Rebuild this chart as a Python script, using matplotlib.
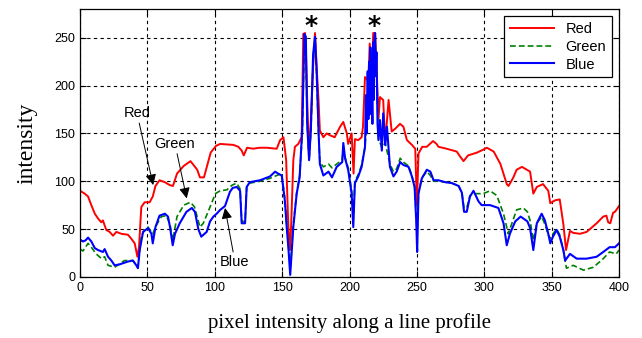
import numpy as np
import matplotlib
matplotlib.use("Agg")
import matplotlib.pyplot as plt

# red channel (x, value)
red_x = [0, 3.5, 6, 8.4, 11, 13.4, 15.8, 17, 19.5, 22, 24.5, 27, 30.7, 35.6, 38, 40.6, 42.6, 43.8,
         45.5, 48, 51.7, 54, 56, 59, 63, 66.5, 69, 72, 77, 82, 87, 89, 92, 97, 101, 104, 113.8,
         117.5, 120, 121.5, 124, 128.6, 133, 138.5, 146, 148.5, 151, 153, 154.6, 156, 157, 158.3,
         159.5, 162, 164.5, 165.7, 167, 167.6, 168.6, 170, 172, 173, 174.4, 175.6, 177, 178, 180.6,
         183, 185.5, 189, 193, 195.4, 198, 199, 201.6, 203, 204, 206.5, 209, 210, 211.5, 214, 215,
         216.4, 217.6, 219, 220, 221.5, 222.6, 225, 226.5, 229, 231.3, 234, 237.5, 240, 242.6,
         246.3, 248.8, 250, 251.2, 254, 257.3, 262, 264.6, 266, 272, 279.6, 282, 284.6, 288, 294.7,
         299.2, 302, 307, 312, 316.7, 318, 321.6, 324, 328, 334, 336.4, 339, 343.6, 347.5, 349,
         352.5, 356, 358.7, 360.7, 363.6, 366, 371, 376, 383.4, 388.3, 390.6, 392, 393.5, 395.6,
         397, 400]
red_y = [90, 87, 84, 75, 66, 61, 57, 59, 49, 47, 43, 47, 45, 44, 40, 35, 21, 31,
         73, 78, 78, 84, 95, 101, 99, 96, 95, 108, 116, 121, 112, 104, 104, 130, 137, 139, 138,
         136, 132, 127, 135, 134, 135, 135, 134, 143, 146, 122, 52, 28, 66, 122,
         136, 139, 146, 254, 255, 240, 185, 125, 185, 220, 255, 220, 185, 153, 146,
         150, 148, 146, 157, 162, 150, 139, 150, 108, 144, 143, 146, 157, 209, 205, 244,
         202, 255, 255, 223, 165, 188, 185, 140, 185, 152, 155, 160, 157, 143,
         138, 134, 75, 129, 136, 136, 142, 139, 136, 134, 131, 126, 121, 127, 130,
         133, 135, 131, 118, 97, 95, 104, 112, 115, 110, 87, 94, 97, 90, 77,
         80, 81, 55, 28, 48, 46, 45, 47, 56, 63, 64, 57, 56, 67,
         68, 74]

# green channel
green_x = [0, 2.2, 6, 8.4, 12, 16, 18.3, 20.8, 25.7, 33, 39.3, 43, 45.5, 48, 50.5, 54, 56.7, 60.4,
           64, 66.8, 68.8, 72, 77, 82, 85, 89, 91.5, 96.5, 100.5, 104, 109, 113, 116.3, 118.8, 120,
           122.5, 123.7, 126, 133.6, 141, 146, 149.7, 152, 153.4, 154.6, 156, 157, 158.3, 160.8, 163,
           165, 166.5, 167.6, 168.6, 170, 171.3, 173, 174.4, 175.6, 177, 178, 180.6, 184.4, 187,
           190.5, 194.6, 195.4, 196.7, 199, 201.6, 202.8, 204, 206.5, 209, 211.5, 212.7, 214, 215.5,
           217, 219, 220, 221.5, 224, 226.5, 230, 232.6, 235, 237.6, 240, 243.8, 246.3, 248.3, 249.5,
           250.2, 251.2, 253.7, 257.4, 260, 262.4, 266, 271, 276, 281, 283.4, 285, 287, 289.4, 292,
           295.7, 299.2, 304.3, 309.3, 314.3, 317.8, 321, 324, 329, 332, 334, 336.4, 339, 342.6,
           345, 347.5, 349, 351, 353.7, 356, 358.7, 361, 366, 373.6, 381, 388.3, 393, 398, 400]
green_y = [29, 27, 35, 31, 24, 19, 21, 12, 10, 17, 17, 10, 43, 49, 52, 45, 54, 63,
           64, 55, 38, 63, 75, 78, 73, 52, 56, 73, 87, 90, 91, 96, 98, 92, 58,
           58, 94, 98, 100, 103, 106, 108, 82, 55, 35, 8, 28, 55, 88, 106,
           150, 245, 240, 160, 122, 150, 225, 245, 210, 150, 120, 115, 118, 114,
           118, 122, 138, 125, 114, 90, 60, 100, 107, 117, 135, 160, 200, 225,
           230, 245, 220, 145, 135, 140, 118, 110, 113, 124, 120, 116, 106, 95, 65,
           45, 88, 104, 110, 106, 100, 100, 99, 98, 95, 88, 72, 72, 85, 87,
           87, 87, 90, 85, 66, 45, 58, 70, 72, 68, 59, 38, 56, 63,
           55, 44, 40, 45, 50, 44, 28, 9, 12, 7, 10, 19, 26, 24, 28]

# blue channel
blue_x = [0, 2.2, 4, 6, 8.4, 11, 13.4, 17, 18.3, 20.8, 23.3, 25.7, 29.4, 35.6, 39.3, 41.8, 43, 44.3,
          46.8, 50.5, 53, 54, 56, 59, 63, 65.3, 66.8, 68.8, 70.5, 74, 79, 83, 85.3, 87.8, 90, 94,
          96.5, 99, 101.4, 104, 107.6, 111.3, 113.3, 116.3, 118.8, 120, 122.5, 123.7, 126, 133.6,
          141, 144.8, 147, 149.7, 152, 153.4, 154.6, 156, 157, 158.3, 160.8, 163, 165, 166.5, 167.6,
          168.6, 170, 171.3, 173, 174.4, 175.6, 177, 178, 180.6, 184.4, 187, 190.5, 194.6, 195.4,
          196.7, 199, 201.6, 202.8, 204, 206.5, 209, 211.5, 212.2, 212.7, 213.5, 214, 214.5, 215,
          215.5, 216, 216.4, 217, 217.5, 218, 218.5, 219, 219.5, 220, 220.8, 221.5, 222.6, 224, 225,
          226.5, 227.8, 230, 232.6, 235, 237.6, 240, 243.8, 246.3, 248.3, 249.5, 250.2, 251.2, 253.7,
          257.4, 260, 262.4, 266, 271, 276, 281, 283.4, 285, 287, 289.4, 292, 295.7, 298, 304.3,
          310.5, 314.3, 316.7, 319, 323, 327, 332, 334, 336.4, 339, 342.6, 345, 347.5, 349, 351,
          353.7, 356, 358.7, 360, 363.6, 368.6, 376, 383.4, 388.3, 393, 397, 400]
blue_y = [39, 37, 38, 41, 37, 30, 28, 26, 29, 21, 17, 12, 13, 16, 17, 12, 9, 28,
          47, 51, 45, 35, 52, 64, 66, 63, 52, 33, 45, 56, 68, 72, 68, 50, 42, 47,
          58, 63, 66, 70, 74, 89, 93, 94, 90, 56, 56, 94, 99, 101,
          105, 110, 108, 106, 80, 52, 31, 2, 24, 52, 87, 104, 157, 254, 251,
          160, 122, 153, 233, 251, 216, 153, 118, 106, 110, 104, 115, 120, 140,
          124, 112, 87, 52, 98, 105, 115, 136, 190, 150, 215, 165, 225, 170,
          240, 180, 200, 160, 245, 185, 250, 255, 210, 235, 160, 143, 164, 132, 171,
          138, 157, 115, 105, 110, 120, 117, 115, 105, 94, 59, 26, 87, 103,
          112, 110, 101, 101, 99, 98, 95, 88, 68, 68, 84, 90, 79, 75, 75,
          72, 56, 33, 45, 58, 63, 58, 51, 28, 56, 66, 59, 45, 35, 42,
          49, 42, 28, 17, 24, 19, 19, 21, 26, 31, 31, 35]

fig = plt.figure(figsize=(6.42, 3.38), dpi=100)
ax = fig.add_axes([0.1246, 0.181, 0.8396, 0.792])

ax.plot(red_x, red_y, color='#ff0000', lw=1.4, label='Red')
ax.plot(green_x, green_y, color='#008000', lw=1.2, ls=(0, (3.5, 1.8)), label='Green')
ax.plot(blue_x, blue_y, color='#0000ff', lw=1.5, label='Blue')

ax.set_xlim(0, 400)
ax.set_ylim(0, 280)
ax.set_xticks(np.arange(0, 401, 50))
ax.set_yticks(np.arange(0, 251, 50))
ax.grid(True, color='black', ls=(0, (3, 3)), lw=0.8)
ax.tick_params(direction='in', top=True, right=True, labelsize=9, length=4)
for lab in ax.get_xticklabels() + ax.get_yticklabels():
    lab.set_family('Liberation Sans')
for s in ax.spines.values():
    s.set_linewidth(0.9)

ax.set_xlabel('pixel intensity along a line profile', family='Liberation Serif', fontsize=15, labelpad=14)
ax.set_ylabel('intensity', family='Liberation Serif', fontsize=17, labelpad=12)

leg = ax.legend(loc='upper right', fancybox=False, edgecolor='black', framealpha=1,
                prop={'family': 'Liberation Sans', 'size': 10.5}, handlelength=3.0,
                borderpad=0.4, labelspacing=0.25, borderaxespad=0.5)
leg.get_frame().set_linewidth(0.9)

arrow = dict(arrowstyle='-|>', color='black', lw=0.7, mutation_scale=16, shrinkA=0, shrinkB=0)
tfont = dict(family='Liberation Sans', fontsize=10.5, ha='center', va='center')
ax.annotate('Red', xy=(54.3, 96), xytext=(42.3, 171), arrowprops=arrow, **tfont)
ax.annotate('Green', xy=(79.2, 82), xytext=(70.5, 139), arrowprops=arrow, **tfont)
ax.annotate('Blue', xy=(107.6, 72), xytext=(115, 15.7), arrowprops=arrow, **tfont)

ax.text(171.4, 262, '*', fontsize=18, fontweight='bold', ha='center', va='center')
ax.text(218, 262, '*', fontsize=18, fontweight='bold', ha='center', va='center')

fig.savefig('out.png', dpi=100)
